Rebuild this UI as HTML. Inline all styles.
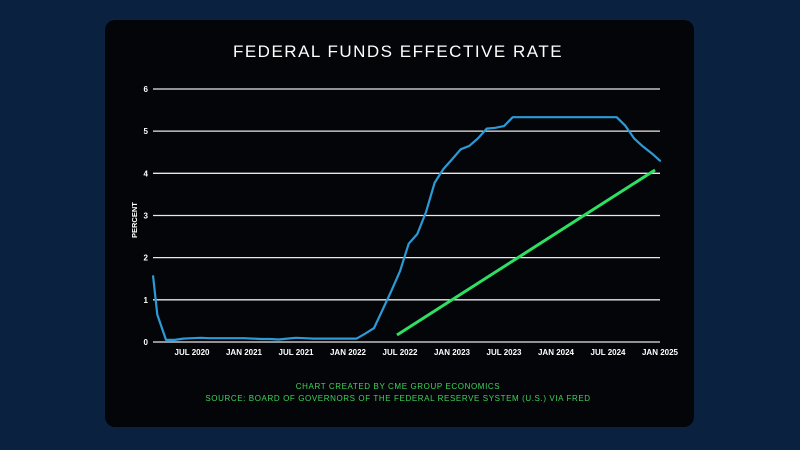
<!DOCTYPE html>
<html><head><meta charset="utf-8"><style>
html,body{margin:0;padding:0;width:800px;height:450px;background:#0a2140;overflow:hidden}
.card{position:absolute;left:105px;top:20px;width:589px;height:407px;background:#040508;border-radius:10px}
svg{position:absolute;left:0;top:0}
text{font-family:"Liberation Sans",sans-serif}
</style></head><body>
<div class="card"></div>
<svg width="800" height="450" id="s">
<text x="398" y="57" fill="#fff" font-size="17" text-anchor="middle" letter-spacing="1.5">FEDERAL FUNDS EFFECTIVE RATE</text>
<g id="grid" stroke="#e8e8e8" stroke-width="1.3"></g>
<g id="yl" fill="#fff" font-size="8" font-weight="bold" text-anchor="end"></g>
<text x="0" y="0" fill="#fff" font-size="7.5" font-weight="bold" transform="translate(137,238) rotate(-90)">PERCENT</text>
<g fill="#fff" font-size="8" font-weight="bold" text-anchor="middle">
<text x="192" y="355">JUL 2020</text><text x="244" y="355">JAN 2021</text><text x="296" y="355">JUL 2021</text>
<text x="348" y="355">JAN 2022</text><text x="400" y="355">JUL 2022</text><text x="452" y="355">JAN 2023</text>
<text x="504" y="355">JUL 2023</text><text x="556" y="355">JAN 2024</text><text x="608" y="355">JUL 2024</text>
<text x="660" y="355">JAN 2025</text></g>
<line x1="397" y1="335" x2="655" y2="170" stroke="#2ee062" stroke-width="3"/>
<polyline id="p" fill="none" stroke="#2c9ad6" stroke-width="2.2" stroke-linejoin="round"/>
<g fill="#3ed45a" font-size="8" text-anchor="middle" letter-spacing="0.6">
<text x="398" y="389">CHART CREATED BY CME GROUP ECONOMICS</text>
<text x="398" y="401">SOURCE: BOARD OF GOVERNORS OF THE FEDERAL RESERVE SYSTEM (U.S.) VIA FRED</text></g>
</svg>
<script>
var ns="http://www.w3.org/2000/svg",g=document.getElementById('grid'),yl=document.getElementById('yl');
for(var v=0;v<=6;v++){var y=342-42.17*v;var l=document.createElementNS(ns,'line');l.setAttribute('x1',153);l.setAttribute('x2',660);l.setAttribute('y1',y);l.setAttribute('y2',y);g.appendChild(l);
var t=document.createElementNS(ns,'text');t.setAttribute('x',148);t.setAttribute('y',y+3);t.textContent=v;yl.appendChild(t);}
var d=[1.58,.65,.05,.05,.08,.09,.10,.09,.09,.09,.09,.09,.08,.07,.07,.06,.08,.10,.09,.08,.08,.08,.08,.08,.08,.20,.33,.77,1.21,1.68,2.33,2.56,3.08,3.78,4.10,4.33,4.57,4.65,4.83,5.06,5.08,5.12,5.33,5.33,5.33,5.33,5.33,5.33,5.33,5.33,5.33,5.33,5.33,5.33,5.33,5.13,4.83,4.64,4.48,4.30];
var n=d.length,pts=[];for(var i=0;i<n;i++){var x=192+8.667*(i-5);if(i==0)x=153;pts.push(x.toFixed(1)+','+(342-42.17*d[i]).toFixed(1));}
pts.push('658,'+(342-42.17*4.34).toFixed(1));
document.getElementById('p').setAttribute('points',pts.join(' '));
</script>
</body></html>
